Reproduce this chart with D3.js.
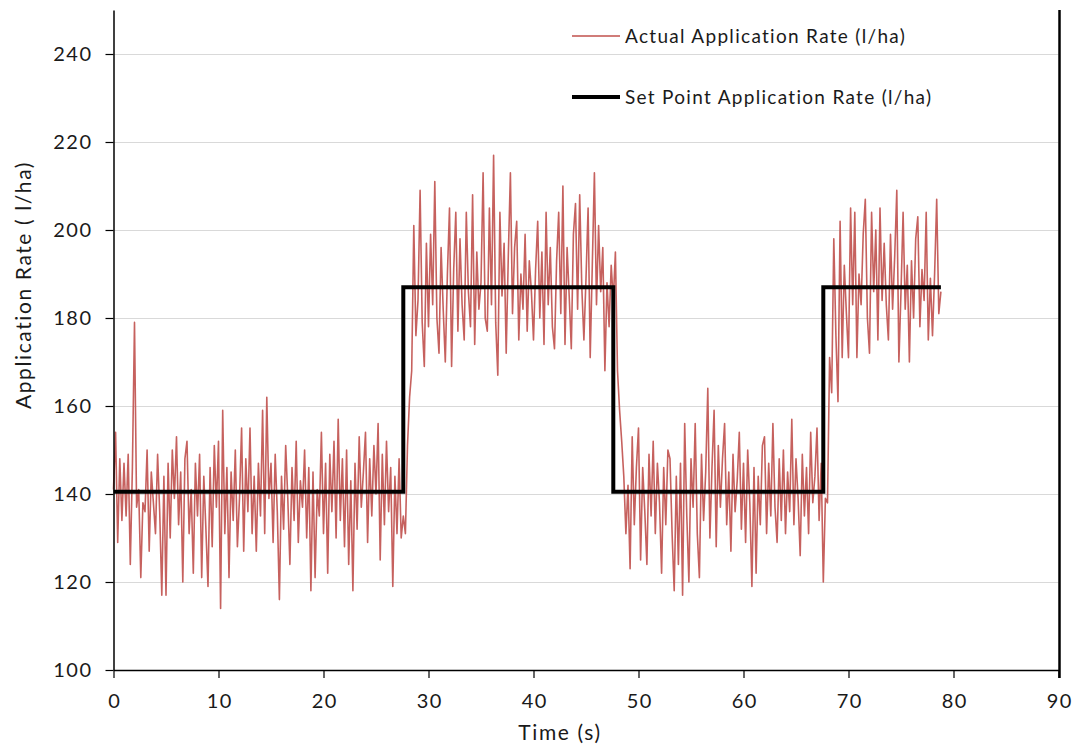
<!DOCTYPE html>
<html>
<head>
<meta charset="utf-8">
<script src="https://cdn.jsdelivr.net/npm/d3@7"></script>
<style>
    body { margin: 0; background: #ffffff; }
    svg text { font-family: Lato, "Open Sans", sans-serif; fill: #1a1a1a; }
</style>
</head>
<body>
<div id="chart"></div>
<script>
'use strict';

// Logged sample interval of the actual rate (s).
var sampleStep = 0.2;

// Actual application rate (l/ha), 5 samples per second.
var actualRate = [
    141, 154, 129, 148, 134,   // 0
    147, 135, 149, 124, 146,   // 1
    179, 137, 141, 121, 138,   // 2
    136, 150, 127, 145, 138,   // 3
    131, 149, 136, 117, 144,   // 4
    117, 147, 130, 150, 139,   // 5
    153, 133, 145, 120, 148,   // 6
    152, 131, 141, 122, 147,   // 7
    135, 149, 121, 144, 132,   // 8
    119, 146, 128, 151, 137,   // 9
    152, 114, 159, 131, 146,   // 10
    121, 145, 134, 150, 128,   // 11
    139, 155, 127, 148, 136,   // 12
    155, 131, 144, 127, 147,   // 13
    135, 159, 131, 162, 139,   // 14
    147, 129, 149, 136, 116,   // 15
    144, 132, 151, 139, 124,   // 16
    146, 134, 152, 129, 143,   // 17
    137, 150, 130, 146, 118,   // 18
    145, 121, 141, 135, 154,   // 19
    131, 147, 122, 149, 136,   // 20
    152, 130, 157, 134, 148,   // 21
    128, 150, 124, 143, 118,   // 22
    147, 132, 153, 137, 145,   // 23
    154, 129, 148, 135, 151,   // 24
    140, 156, 125, 149, 133,   // 25
    152, 136, 146, 119, 144,   // 26
    131, 148, 130, 135, 131,   // 27
    151, 162, 168, 201, 176,   // 28
    184, 209, 179, 169, 197,   // 29
    178, 199, 183, 211, 180,   // 30
    172, 196, 182, 170, 190,   // 31
    205, 169, 191, 204, 177,   // 32
    198, 183, 175, 204, 186,   // 33
    178, 208, 174, 195, 182,   // 34
    188, 213, 180, 177, 205,   // 35
    183, 217, 179, 167, 204,   // 36
    185, 197, 172, 194, 213,   // 37
    181, 196, 202, 175, 190,   // 38
    182, 199, 177, 193, 186,   // 39
    175, 191, 202, 180, 195,   // 40
    174, 204, 183, 196, 178,   // 41
    173, 193, 204, 181, 210,   // 42
    174, 196, 185, 173, 199,   // 43
    206, 182, 208, 187, 175,   // 44
    189, 205, 171, 192, 213,   // 45
    183, 201, 186, 196, 168,   // 46
    188, 178, 192, 184, 195,   // 47
    168, 159, 152, 144, 131,   // 48
    142, 123, 153, 133, 146,   // 49
    155, 125, 146, 136, 124,   // 50
    149, 135, 152, 131, 147,   // 51
    138, 122, 146, 133, 150,   // 52
    148, 131, 118, 144, 124,   // 53
    147, 117, 156, 135, 120,   // 54
    148, 137, 156, 131, 121,   // 55
    149, 134, 145, 164, 130,   // 56
    146, 159, 128, 151, 137,   // 57
    148, 156, 133, 145, 127,   // 58
    149, 136, 143, 154, 132,   // 59
    147, 129, 150, 138, 119,   // 60
    146, 122, 144, 133, 151,   // 61
    153, 131, 147, 135, 156,   // 62
    137, 129, 148, 134, 150,   // 63
    131, 145, 136, 157, 133,   // 64
    148, 139, 126, 149, 135,   // 65
    146, 131, 154, 138, 144,   // 66
    155, 134, 147, 120, 139,   // 67
    138, 171, 163, 198, 176,   // 68
    161, 202, 171, 192, 181,   // 69
    171, 205, 183, 204, 171,   // 70
    190, 183, 199, 207, 180,   // 71
    172, 204, 186, 200, 175,   // 72
    205, 184, 197, 183, 175,   // 73
    199, 182, 194, 209, 170,   // 74
    186, 204, 182, 192, 170,   // 75
    193, 180, 198, 203, 178,   // 76
    191, 184, 204, 175, 189,   // 77
    176, 190, 207, 181, 186    // 78
];

// Set point application rate (l/ha) as a step series.
var setPointTime = [0, 27.6, 27.6, 47.6, 47.6, 67.6, 67.6, 78.8];
var setPointRate = [140.5, 140.5, 187, 187, 140.5, 140.5, 187, 187];

var xTicks = [0, 10, 20, 30, 40, 50, 60, 70, 80, 90];
var yTicks = [100, 120, 140, 160, 180, 200, 220, 240];

var seriesNames = ["Actual Application Rate (l/ha)", "Set Point Application Rate (l/ha)"];
var xTitle = "Time (s)";
var yTitle = "Application Rate ( l/ha)";

var WIDTH = 1077;
var HEIGHT = 744;

var svg = d3.select("#chart")
    .append("svg")
    .attr("width", WIDTH)
    .attr("height", HEIGHT);

var x = d3.scaleLinear().domain([0, 90]).range([113.5, 1058.5]);
var y = d3.scaleLinear().domain([100, 250]).range([670, 10]);

// Horizontal gridlines.
svg.append("g")
    .selectAll("line")
    .data(yTicks.filter(function (d) { return d > 100; }))
    .enter().append("line")
    .attr("x1", x(0))
    .attr("x2", x(90))
    .attr("y1", function (d) { return Math.round(y(d)) + 0.5; })
    .attr("y2", function (d) { return Math.round(y(d)) + 0.5; })
    .style("stroke", "#d9d9d9")
    .style("stroke-width", 1);

// Right-hand frame edge.
svg.append("line")
    .attr("x1", x(90) + 1)
    .attr("x2", x(90) + 1)
    .attr("y1", y(250))
    .attr("y2", y(100) + 8)
    .style("stroke", "#000")
    .style("stroke-width", 2.5);

// Actual rate.
var actualLine = d3.line()
    .x(function (d, i) { return x(i * sampleStep); })
    .y(function (d) { return y(d); });

svg.append("path")
    .datum(actualRate)
    .attr("d", actualLine)
    .style("fill", "none")
    .style("stroke", "#c0504d")
    .style("stroke-opacity", 0.9)
    .style("stroke-width", 1.6)
    .style("stroke-linejoin", "round");

// Set point.
var setLine = d3.line()
    .x(function (d) { return x(d[0]); })
    .y(function (d) { return y(d[1]); });

svg.append("path")
    .datum(d3.zip(setPointTime, setPointRate))
    .attr("d", setLine)
    .style("fill", "none")
    .style("stroke", "#000")
    .style("stroke-width", 4)
    .style("stroke-linejoin", "miter");

// Axes.
var xAxis = svg.append("g")
    .attr("transform", "translate(0," + y(100) + ")")
    .call(d3.axisBottom(x).tickValues(xTicks).tickSize(8).tickSizeOuter(0).tickPadding(16));

var yAxis = svg.append("g")
    .attr("transform", "translate(" + x(0) + ",0)")
    .call(d3.axisLeft(y).tickValues(yTicks).tickSize(8).tickSizeOuter(0).tickPadding(13));

[xAxis, yAxis].forEach(function (g) {
    g.select(".domain").style("stroke", "#000").style("stroke-width", 1.5);
    g.selectAll(".tick line").style("stroke", "#000").style("stroke-width", 1.2);
    g.selectAll(".tick text")
        .style("font-family", "Lato, 'Open Sans', sans-serif")
        .style("font-size", "20px")
        .style("letter-spacing", "1.5px")
        .style("fill", "#1a1a1a");
});
xAxis.selectAll(".tick text").attr("dx", "0.75px");

// Axis titles.
svg.append("text")
    .attr("x", 560)
    .attr("y", 740)
    .attr("text-anchor", "middle")
    .style("font-size", "21px")
    .style("letter-spacing", "1.6px")
    .text(xTitle);

svg.append("text")
    .attr("transform", "translate(31,285) rotate(-90)")
    .attr("text-anchor", "middle")
    .style("font-size", "21px")
    .style("letter-spacing", "1.6px")
    .text(yTitle);

// Legend.
var legend = svg.append("g");
var legendY = [36, 97];

legend.append("line")
    .attr("x1", 572).attr("x2", 620)
    .attr("y1", legendY[0]).attr("y2", legendY[0])
    .style("stroke", "#c0504d")
    .style("stroke-width", 1.3);

legend.append("line")
    .attr("x1", 572).attr("x2", 620)
    .attr("y1", legendY[1]).attr("y2", legendY[1])
    .style("stroke", "#000")
    .style("stroke-width", 4);

legend.selectAll("text")
    .data(seriesNames)
    .enter().append("text")
    .attr("x", 625)
    .attr("y", function (d, i) { return legendY[i]; })
    .attr("dy", "0.35em")
    .style("font-size", "19px")
    .style("letter-spacing", "1.3px")
    .text(function (d) { return d; });
</script>
</body>
</html>
